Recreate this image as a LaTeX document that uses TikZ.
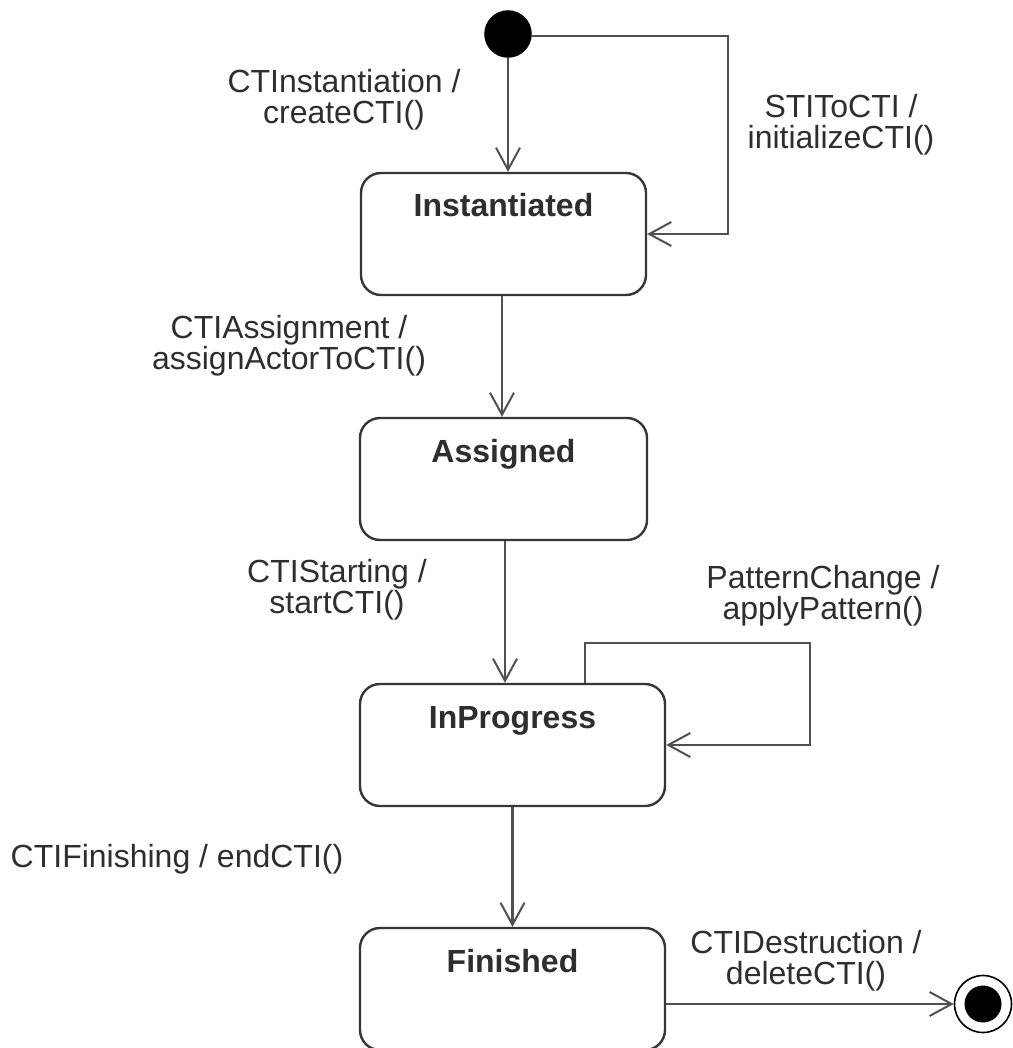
\documentclass[tikz,border=0pt]{standalone}
\usepackage{fontspec}
\setmainfont{Liberation Sans}
\usetikzlibrary{arrows.meta,calc}
\definecolor{linec}{HTML}{505050}
\definecolor{boxc}{HTML}{363636}
\definecolor{txtc}{HTML}{2E2E2E}
\begin{document}
\begin{tikzpicture}[x=1pt,y=-1pt,
  every node/.style={font=\fontsize{32}{31}\selectfont},
  statebox/.style={draw=boxc, line width=2.4pt, rounded corners=20pt, fill=white,
    minimum height=122pt, inner sep=0pt, text height=26pt, text depth=60pt,
    font=\fontsize{32}{31}\selectfont\bfseries, text=txtc},
  tr/.style={draw=linec, line width=2.4pt,
    -{Straight Barb[length=22pt,width=24pt,line width=2pt]}},
  lbl/.style={align=center, inner sep=0pt, anchor=base, text=txtc}]
\useasboundingbox (0,0) rectangle (1012,1048);
% states
\node[circle, fill=black, draw=black, minimum size=47pt, inner sep=0pt] (init) at (508,34) {};
\node[statebox, minimum width=285pt] (inst) at (503.5,234) {Instantiated};
\node[statebox, minimum width=287pt] (assg) at (503.5,479) {Assigned};
\node[statebox, minimum width=305pt] (prog) at (512.5,745) {InProgress};
\node[statebox, minimum width=305pt] (fin) at (512.5,989) {Finished};
\node[circle, draw=black, line width=1.6pt, fill=white, minimum size=57pt, inner sep=0pt] (final) at (983,1004) {};
\node[circle, fill=black, minimum size=37pt, inner sep=0pt] (finaldot) at (final.center) {};
% helper coordinates
\coordinate (loopA) at (728,100);
\coordinate (loopB) at (810,643);
% transitions
\draw[tr] (init) -- (init |- inst.north);
\draw[tr] ([yshift=-2pt]init.east) -| (loopA) |- (inst.east);
\draw[tr] ([xshift=-1.5pt]inst.south) -- ([xshift=-1.5pt]assg.north);
\draw[tr] ([xshift=1.5pt]assg.south) -- ([xshift=-7.5pt]prog.north);
\draw[tr] (prog.south) -- (fin.north);
\draw[tr] ([xshift=72.5pt]prog.north) |- (loopB) |- (prog.east);
\draw[tr] (fin.east |- final.west) -- (final.west);
% labels (anchor=base sits on the last line)
\node[lbl] (l1) at (344,124) {CTInstantiation /\\createCTI()};
\node[lbl] (l2) at (841,149) {STIToCTI /\\initializeCTI()};
\node[lbl] (l3) at (289,369) {CTIAssignment /\\assignActorToCTI()};
\node[lbl] (l4) at (337,613) {CTIStarting /\\startCTI()};
\node[lbl] (l5) at (823,619) {PatternChange /\\applyPattern()};
\node[lbl] (l6) at (177,867) {CTIFinishing / endCTI()};
\node[lbl] (l7) at (806,984) {CTIDestruction /\\deleteCTI()};
\end{tikzpicture}
\end{document}
